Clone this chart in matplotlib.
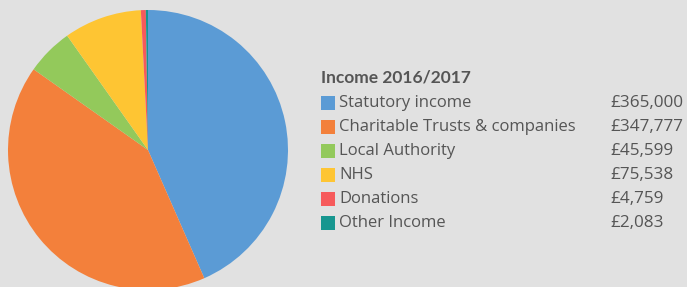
import matplotlib
matplotlib.use("Agg")
import matplotlib.pyplot as plt
from matplotlib.patches import Rectangle

# income sources, clockwise from the top of the pie
labels = ["Statutory income", "Charitable Trusts & companies", "Local Authority",
          "NHS", "Donations", "Other Income"]
values = [365000, 347777, 45599, 75538, 4759, 2083]
colors = ["#5b9bd5", "#f3803b", "#93c95b", "#fec533", "#f65a5b", "#17968f"]
title = "Income 2016/2017"

W, H = 687, 287
bg = "#e1e1e1"
txt_col = "#555555"

fig = plt.figure(figsize=(W / 100, H / 100), dpi=100, facecolor=bg)

# pie: centre about (148, 150) px from top-left, radius ~140 px
cx, cy, r = 148, 150, 140
ax = fig.add_axes([(cx - r) / W, (H - cy - r) / H, 2 * r / W, 2 * r / H])
ax.set_facecolor(bg)
ax.pie(values, colors=colors, startangle=90, counterclock=False, radius=1,
       wedgeprops=dict(linewidth=0))
ax.set_xlim(-1, 1)
ax.set_ylim(-1, 1)
ax.set_aspect("equal")
ax.axis("off")

fig.text(321 / W, 1 - 77.5 / H, title, fontsize=12.5, fontweight="bold",
         color=txt_col, family="Lato", va="center", ha="left")

y0, dy = 103, 24
for i, (lab, val, col) in enumerate(zip(labels, values, colors)):
    y = y0 + i * dy
    fig.patches.append(Rectangle((321 / W, 1 - (y + 7) / H), 14 / W, 14 / H,
                                 transform=fig.transFigure, facecolor=col,
                                 edgecolor="none"))
    fig.text(339 / W, 1 - y / H, lab, fontsize=12.0, color=txt_col,
             family="Open Sans", va="center", ha="left")
    fig.text(610 / W, 1 - y / H, f"£{val:,}", fontsize=12.3, color=txt_col,
             family="Open Sans", va="center", ha="left")

fig.savefig("out.png", dpi=100, facecolor=bg)
